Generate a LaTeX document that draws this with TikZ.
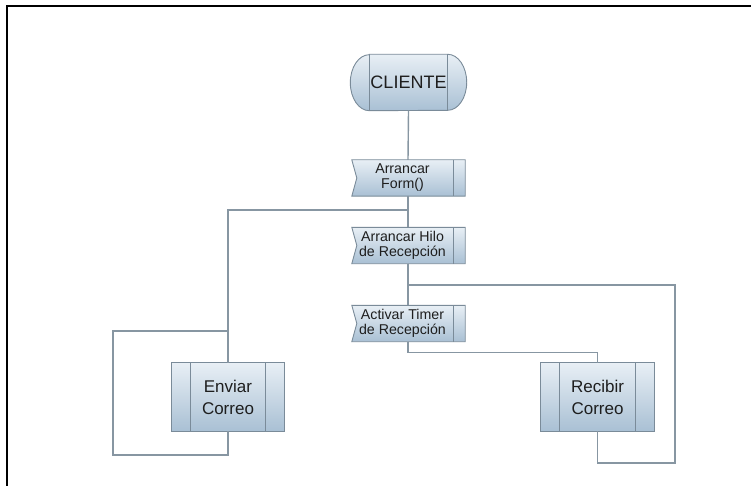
\documentclass[tikz,border=0pt]{standalone}
\usepackage{fontspec}
\setmainfont{Liberation Sans}
\usetikzlibrary{backgrounds}
\definecolor{boxtop}{HTML}{E8EFF5}
\definecolor{boxbot}{HTML}{A9C0D4}
\definecolor{boxline}{HTML}{7A8B99}
\definecolor{wirecol}{HTML}{8796A2}
\definecolor{txt}{HTML}{1E1E1E}

\begin{document}
\begin{tikzpicture}[x=1pt,y=-1pt,
  wire/.style={draw=wirecol, line width=1.4pt},
  shapefill/.style={top color=boxtop, bottom color=boxbot, draw=boxline, line width=0.9pt},
  edge/.style={draw=boxline, line width=0.9pt},
  % text area of a step box; the 12pt strip on its right is drawn separately
  steplabel/.style={inner sep=0pt, minimum width=101pt, minimum height=36pt, align=center,
    font=\fontsize{14.2}{15}\selectfont, text=txt},
  procbox/.style={inner sep=0pt, minimum width=112pt, minimum height=68pt, align=center,
    font=\fontsize{17}{22}\selectfont, text=txt}]

\useasboundingbox (0,0) rectangle (751,486);

% page frame (top and left edges)
\draw[line width=2.4pt] (7,486) -- (7,6) -- (751,6);

% nodes
\node[inner sep=0pt, minimum width=78pt, minimum height=56pt,
      font=\fontsize{18}{20}\selectfont, text=txt] (cliente) at (408.5,82.5) {CLIENTE};
\node[steplabel] (form)  at (402.5,178) {Arrancar\\Form()};
\node[steplabel] (hilo)  at (402.5,245.5) {Arrancar Hilo\\de Recepción};
\node[steplabel] (timer) at (402.5,323.5) {Activar Timer\\de Recepción};
\node[procbox] (enviar)  at (228,397) {Enviar\\Correo};
\node[procbox, minimum width=113pt] (recibir) at (597.5,397) {Recibir\\Correo};

% shapes behind the labels
\begin{scope}[on background layer]
  \shadedraw[shapefill] (cliente.north west) -- (cliente.north east)
     arc[start angle=90, end angle=-90, x radius=19pt, y radius=28pt]
     -- (cliente.south west)
     arc[start angle=270, end angle=90, x radius=19pt, y radius=28pt] -- cycle;
  \draw[edge] (cliente.north west) -- (cliente.south west)
              (cliente.north east) -- (cliente.south east);
  \foreach \n in {form,hilo,timer} {
    \shadedraw[shapefill] (\n.north west) -- ([xshift=12pt]\n.north east)
       -- ([xshift=12pt]\n.south east) -- (\n.south west)
       -- ([xshift=5pt]\n.west) -- cycle;
    \draw[edge] (\n.north east) -- (\n.south east);
  }
  \foreach \n in {enviar,recibir} {
    \shadedraw[shapefill] (\n.north west) rectangle (\n.south east);
    \draw[edge] ([xshift=19pt]\n.north west) -- ([xshift=19pt]\n.south west)
                ([xshift=-19pt]\n.north east) -- ([xshift=-19pt]\n.south east);
  }
\end{scope}

% connectors (the main line runs 5.5pt right of the step text centres)
\coordinate (j1) at (408,210);
\coordinate (j2) at (408,285);
\coordinate (el) at (113,331);
\coordinate (eb) at (113,455);
\coordinate (rr) at (675,463);

\draw[wire] (cliente.south) -- ([xshift=5.5pt]form.north);
\draw[wire] ([xshift=5.5pt]form.south) -- ([xshift=5.5pt]hilo.north);
\draw[wire] ([xshift=5.5pt]hilo.south) -- ([xshift=5.5pt]timer.north);
\draw[wire] (j1) -| (enviar.north);
\draw[wire] (enviar.south) |- (eb) -- (el) -- (el -| enviar.north);
\draw[wire] (j2) -| (rr) -| (recibir.south);
\draw[wire] ([xshift=5.5pt]timer.south) -- ++(0,11) -| (recibir.north);
\end{tikzpicture}
\end{document}
